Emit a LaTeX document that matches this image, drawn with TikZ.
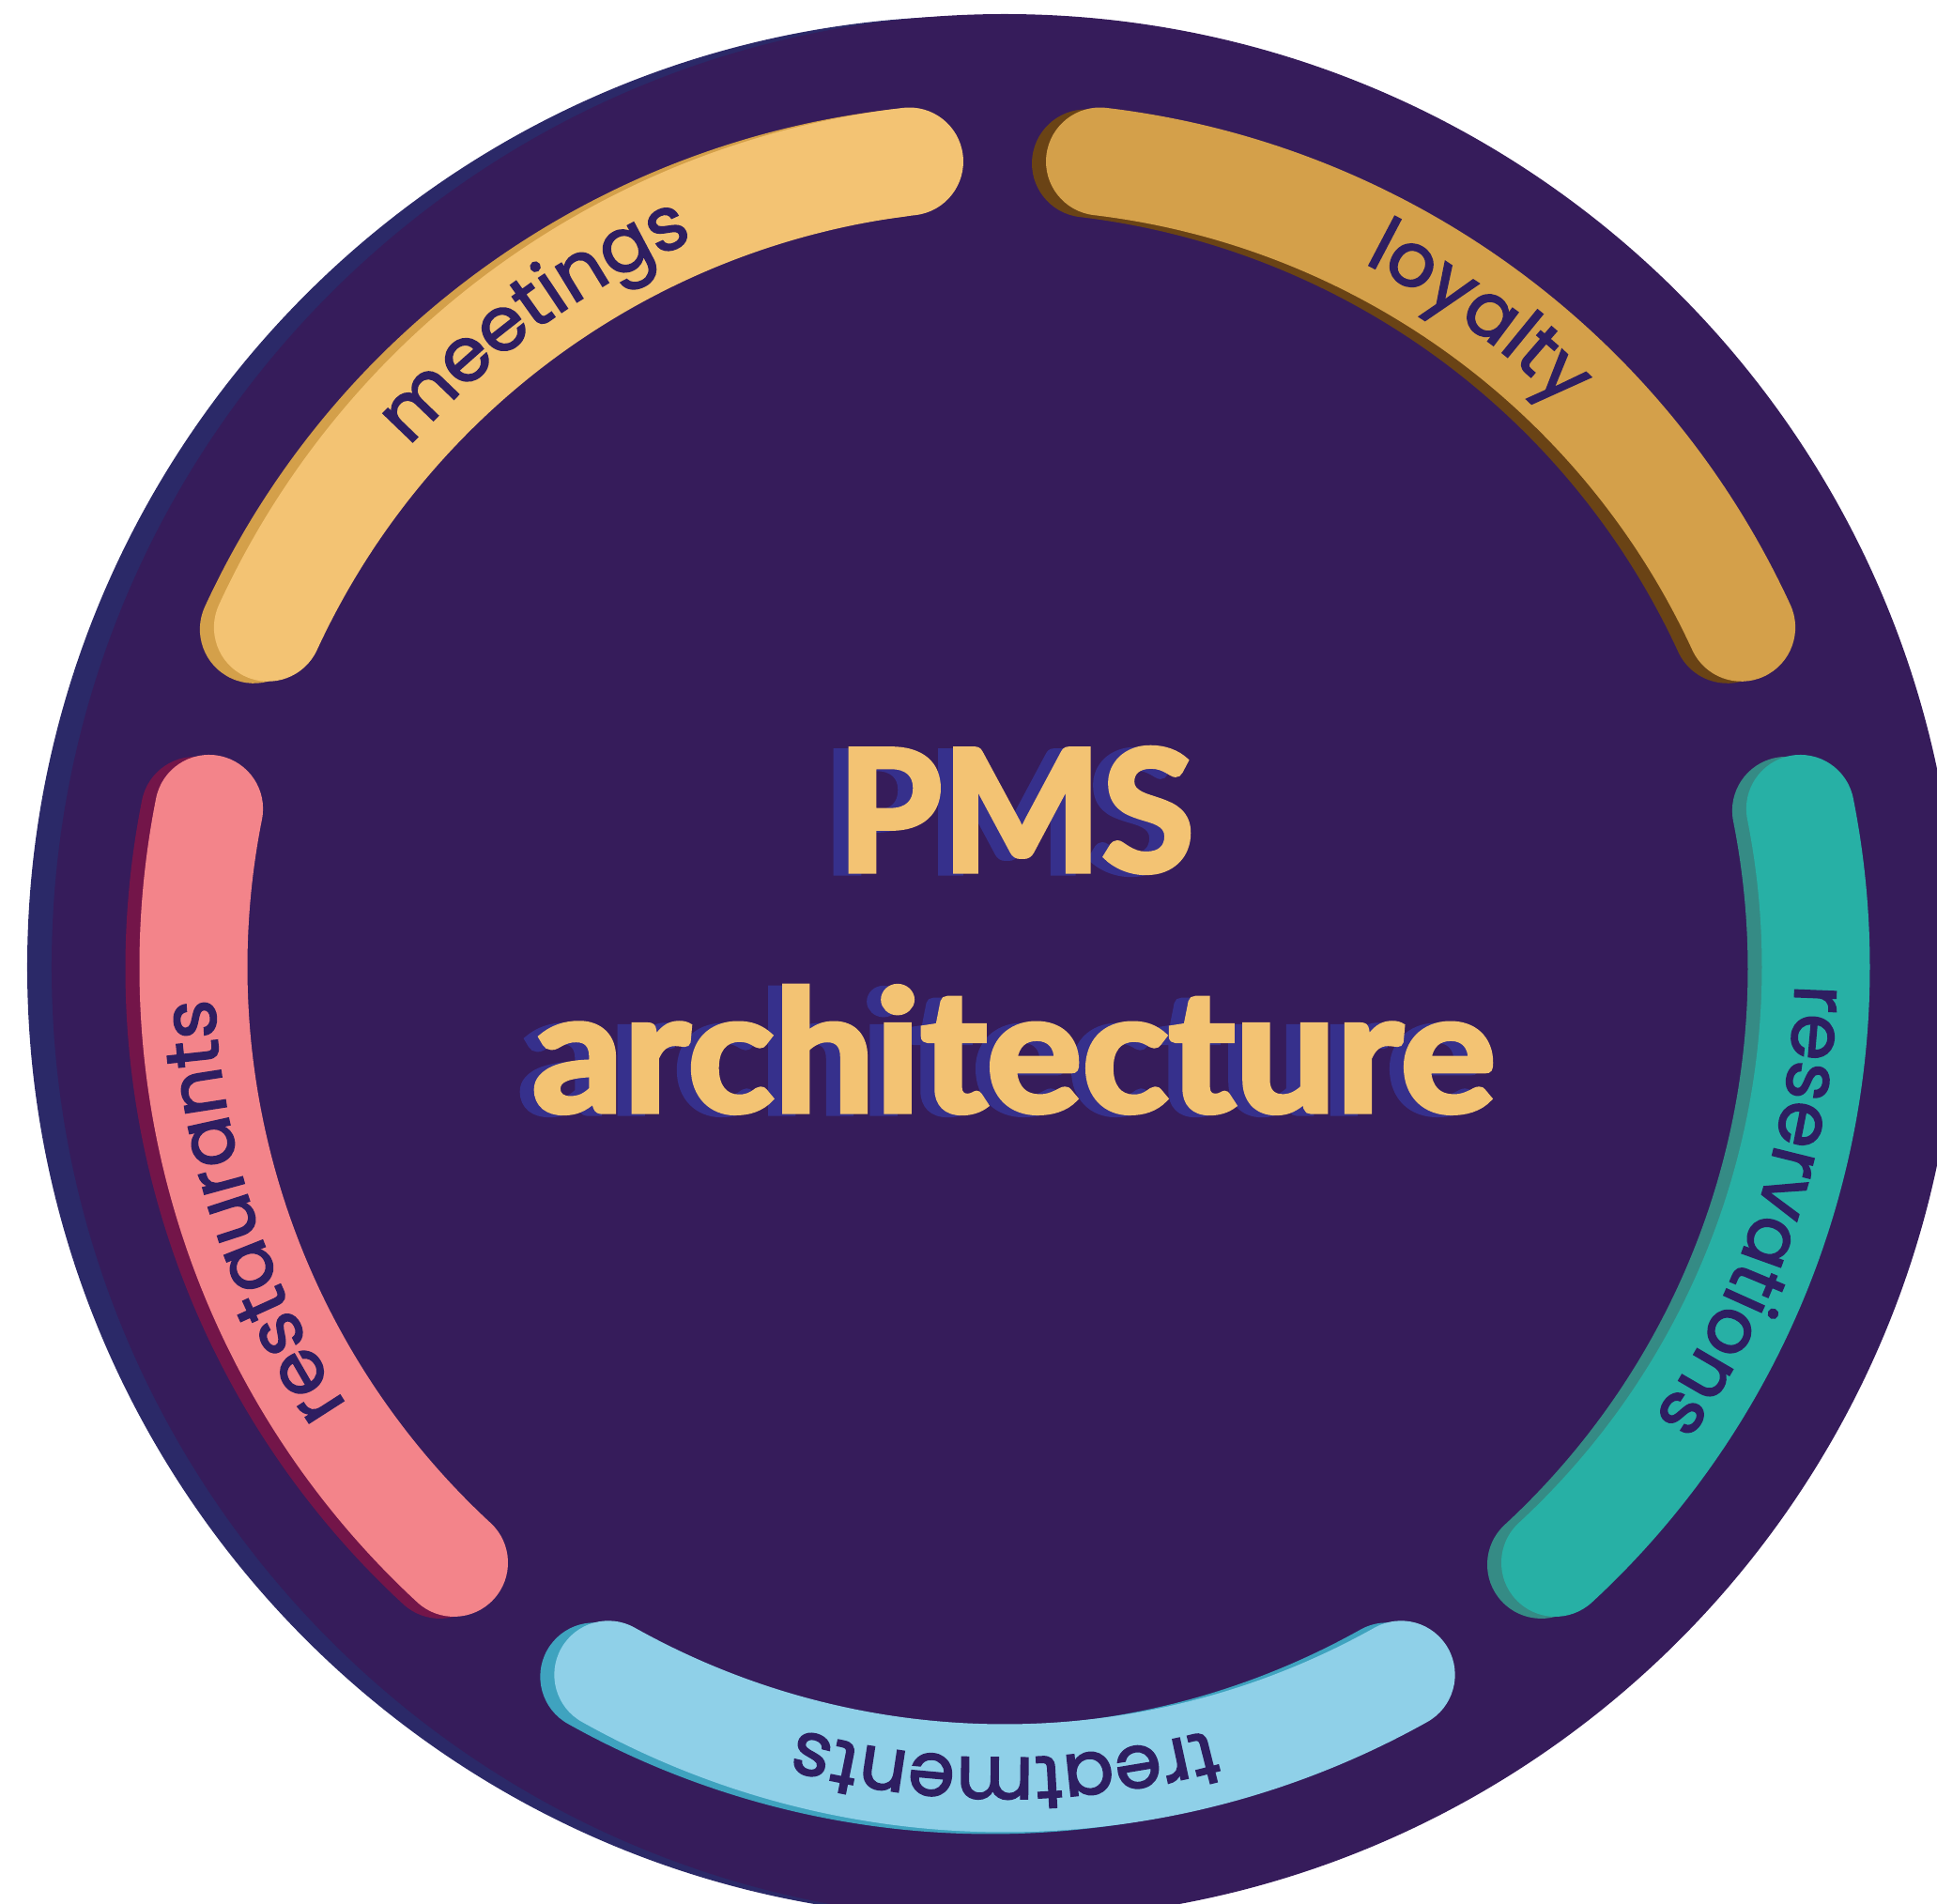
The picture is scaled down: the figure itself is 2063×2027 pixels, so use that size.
\documentclass[tikz,border=0pt]{standalone}
\usepackage{fontspec}
\usepackage{tikz}
\usetikzlibrary{decorations.text}
\newfontfamily\arcfont{Poppins}[FakeBold=2]
\newfontfamily\titlefont{Lato}[FakeBold=3]
\definecolor{discbg}{HTML}{361C5B}
\definecolor{discshade}{HTML}{2B2968}
\definecolor{labelink}{HTML}{2E1E61}
\definecolor{titlegold}{HTML}{F3C373}
\definecolor{titleshade}{HTML}{36308C}
\definecolor{meetcol}{HTML}{F3C373}
\definecolor{meetshade}{HTML}{D4A04A}
\definecolor{loyalcol}{HTML}{D4A04A}
\definecolor{loyalshade}{HTML}{6A4315}
\definecolor{resvcol}{HTML}{27B0A5}
\definecolor{resvshade}{HTML}{358B85}
\definecolor{treatcol}{HTML}{8FD0E8}
\definecolor{treatshade}{HTML}{3FA3BF}
\definecolor{restcol}{HTML}{F3848A}
\definecolor{restshade}{HTML}{731549}
\newcommand{\labelfont}{\arcfont\fontsize{32}{32}\selectfont}
\tikzset{
  band/.style={line width=46pt, line cap=round},
  bandlabel/.style={decorate, decoration={text along path, text align=center,
      text color=labelink, text={|\labelfont|#1}}},
  bigtitle/.style={font=\titlefont\bfseries\fontsize{72}{72}\selectfont, anchor=base, inner sep=0pt}
}
\begin{document}
\begin{tikzpicture}[x=0.4pt, y=0.4pt]
  \useasboundingbox (-1070,-997) rectangle (993,1030);
  % disc
  \fill[discshade] (-28,0) circle (1013);
  \fill[discbg] (0,0) circle (1015);

  % meetings
  \draw[band, meetshade] ([shift={(-15,-2)}]155.25:864) arc[start angle=155.25, end angle=96.75, radius=864];
  \draw[band, meetcol] (155.25:864) arc[start angle=155.25, end angle=96.75, radius=864];
  \path[bandlabel=meetings] (155.25:842) arc[start angle=155.25, end angle=96.75, radius=842];

  % loyalty
  \draw[band, loyalshade] ([shift={(-15,-2)}]83.25:864) arc[start angle=83.25, end angle=24.75, radius=864];
  \draw[band, loyalcol] (83.25:864) arc[start angle=83.25, end angle=24.75, radius=864];
  \path[bandlabel=loyalty] (83.25:842) arc[start angle=83.25, end angle=24.75, radius=842];

  % reservations
  \draw[band, resvshade] ([shift={(-15,-2)}]11.25:864) arc[start angle=11.25, end angle=-47.25, radius=864];
  \draw[band, resvcol] (11.25:864) arc[start angle=11.25, end angle=-47.25, radius=864];
  \path[bandlabel=reservations] (11.25:842) arc[start angle=11.25, end angle=-47.25, radius=842];

  % treatments
  \draw[band, treatshade] ([shift={(-15,-2)}]-60.75:864) arc[start angle=-60.75, end angle=-119.25, radius=864];
  \draw[band, treatcol] (-60.75:864) arc[start angle=-60.75, end angle=-119.25, radius=864];
  \path[bandlabel=treatments] (-60.75:842) arc[start angle=-60.75, end angle=-119.25, radius=842];

  % restaurants
  \draw[band, restshade] ([shift={(-15,-2)}]-132.75:864) arc[start angle=-132.75, end angle=-191.25, radius=864];
  \draw[band, restcol] (-132.75:864) arc[start angle=-132.75, end angle=-191.25, radius=864];
  \path[bandlabel=restaurants] (-132.75:842) arc[start angle=-132.75, end angle=-191.25, radius=842];

  % title
  \node[bigtitle, text=titleshade] (pms-shade) at (-4,100) {PMS};
  \node[bigtitle, text=titlegold] (pms) at (12,102) {PMS};
  \node[bigtitle, text=titleshade] (arch-shade) at (-5,-156) {\scalebox{1.06}[1]{architecture}};
  \node[bigtitle, text=titlegold] (arch) at (10,-154) {\scalebox{1.06}[1]{architecture}};
\end{tikzpicture}
\end{document}
